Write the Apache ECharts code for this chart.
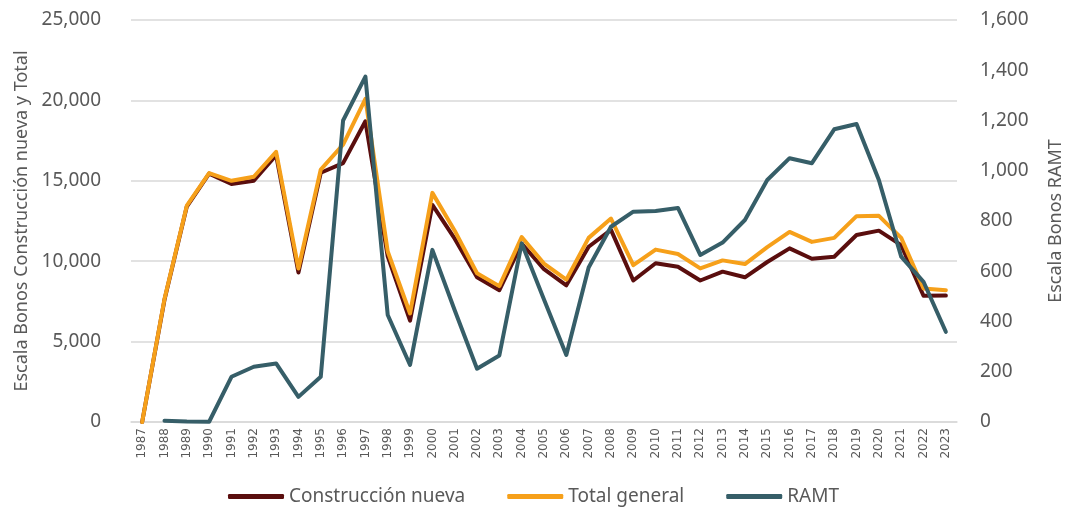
<!DOCTYPE html>
<html>
<head>
<meta charset="utf-8">
<script src="https://cdn.jsdelivr.net/npm/echarts@6/dist/echarts.min.js"></script>
<style>
  html, body { margin: 0; padding: 0; background: #fff; }
  #grafico { width: 1067px; height: 519px; }
</style>
</head>
<body>
<div id="grafico"></div>
<script>
const anios = ['1987', '1988', '1989', '1990', '1991', '1992', '1993', '1994', '1995', '1996',
  '1997', '1998', '1999', '2000', '2001', '2002', '2003', '2004', '2005', '2006',
  '2007', '2008', '2009', '2010', '2011', '2012', '2013', '2014', '2015', '2016',
  '2017', '2018', '2019', '2020', '2021', '2022', '2023'];

const construccionNueva = [0, 7600, 13400, 15450, 14800, 15000, 16600, 9300, 15500, 16100,
  18700, 10300, 6300, 13500, 11400, 9000, 8200, 11100, 9500, 8500,
  10900, 11950, 8800, 9870, 9650, 8800, 9350, 9000, 9950, 10800,
  10150, 10280, 11630, 11900, 11000, 7850, 7860];

const totalGeneral = [0, 7650, 13450, 15480, 15000, 15250, 16800, 9550, 15700, 17250,
  20100, 10600, 6750, 14250, 11900, 9250, 8450, 11500, 9850, 8850,
  11450, 12650, 9750, 10720, 10450, 9550, 10050, 9820, 10880, 11820,
  11200, 11450, 12800, 12820, 11450, 8300, 8200];

const ramt = [null, 5, 2, 1, 180, 220, 233, 100, 180, 1200,
  1375, 426, 227, 685, 445, 212, 265, 711, 488, 267,
  615, 777, 837, 840, 852, 665, 714, 804, 963, 1050,
  1030, 1165, 1186, 963, 658, 558, 359];

const ticksIzquierda = { min: 0, max: 25000, interval: 5000 };
const ticksDerecha = { min: 0, max: 1600, interval: 200 };

const colores = ['#5A0E0E', '#F6A01A', '#365E68'];
const fuente = 'Noto Sans';
const gris = '#595959';

const formatoMiles = v => v.toLocaleString('en-US');

const chart = echarts.init(document.getElementById('grafico'));

const opciones = {
  animation: false,
  color: colores,
  textStyle: { fontFamily: fuente },
  grid: { left: 131, right: 110, top: 20, bottom: 97, containLabel: false, outerBoundsMode: 'none' },
  legend: {
    bottom: 8,
    left: 'center',
    icon: 'roundRect',
    itemWidth: 56,
    itemHeight: 5,
    itemGap: 42,
    textStyle: { fontFamily: fuente, fontSize: 19, color: gris },
    data: ['Construcción nueva', 'Total general', 'RAMT']
  },
  xAxis: {
    type: 'category',
    data: anios,
    boundaryGap: true,
    axisLine: { lineStyle: { color: '#d9d9d9', width: 1.5 } },
    axisTick: { show: false },
    axisLabel: { rotate: 90, fontSize: 12, color: gris, margin: 6, interval: 0, fontFamily: 'DejaVu Sans' }
  },
  yAxis: [
    {
      type: 'value',
      min: ticksIzquierda.min,
      max: ticksIzquierda.max,
      interval: ticksIzquierda.interval,
      name: 'Escala Bonos Construcción nueva y Total',
      nameLocation: 'middle',
      nameGap: 100,
      nameTextStyle: { fontSize: 18, color: gris, fontFamily: fuente },
      axisLine: { show: false },
      axisTick: { show: false },
      axisLabel: { fontSize: 19, color: gris, margin: 30, formatter: formatoMiles },
      splitLine: { lineStyle: { color: '#d9d9d9', width: 1.5 } }
    },
    {
      type: 'value',
      min: ticksDerecha.min,
      max: ticksDerecha.max,
      interval: ticksDerecha.interval,
      name: 'Escala Bonos RAMT',
      nameLocation: 'middle',
      nameGap: 90,
      nameTextStyle: { fontSize: 18, color: gris, fontFamily: fuente },
      axisLine: { show: false },
      axisTick: { show: false },
      axisLabel: { fontSize: 19, color: gris, margin: 23, formatter: formatoMiles },
      splitLine: { show: false }
    }
  ],
  series: [
    {
      name: 'Construcción nueva',
      type: 'line',
      data: construccionNueva,
      yAxisIndex: 0,
      symbol: 'none',
      lineStyle: { width: 4, cap: 'round', join: 'round' },
      z: 2
    },
    {
      name: 'Total general',
      type: 'line',
      data: totalGeneral,
      yAxisIndex: 0,
      symbol: 'none',
      lineStyle: { width: 4, cap: 'round', join: 'round' },
      z: 3
    },
    {
      name: 'RAMT',
      type: 'line',
      data: ramt,
      yAxisIndex: 1,
      symbol: 'none',
      lineStyle: { width: 4, cap: 'round', join: 'round' },
      z: 4
    }
  ]
};

chart.setOption(opciones);
</script>
</body>
</html>
